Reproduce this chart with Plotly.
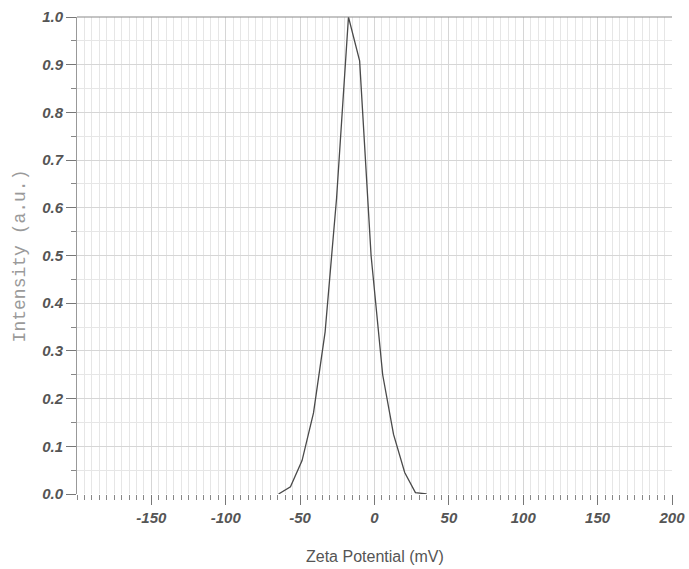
import plotly.graph_objects as go

# Data
zeta_mv = [-64.5, -56.5, -48.7, -41.0, -33.2, -25.5, -17.5, -10.0, -2.3, 5.5, 12.8, 20.3, 27.5, 35.0]
intensity = [0.0, 0.015, 0.07, 0.17, 0.34, 0.62, 1.0, 0.908, 0.50, 0.25, 0.125, 0.045, 0.003, 0.0]

x_tickvals = [-150, -100, -50, 0, 50, 100, 150, 200]
x_ticklabels = ["-150", "-100", "-50", "0", "50", "100", "150", "200"]
y_tickvals = [0.0, 0.1, 0.2, 0.3, 0.4, 0.5, 0.6, 0.7, 0.8, 0.9, 1.0]
y_ticklabels = ["0.0", "0.1", "0.2", "0.3", "0.4", "0.5", "0.6", "0.7", "0.8", "0.9", "1.0"]

tick_font = dict(family="Liberation Sans, Arial, sans-serif", size=15, color="#555555")

fig = go.Figure()
fig.add_trace(go.Scatter(
    x=zeta_mv, y=intensity, mode="lines",
    line=dict(color="#4a4a4a", width=1.3),
    showlegend=False, hoverinfo="skip",
))

fig.update_layout(
    width=689, height=569,
    margin=dict(l=77, r=17, t=17, b=75),
    paper_bgcolor="white", plot_bgcolor="white",
    xaxis=dict(
        range=[-200, 200], tickvals=x_tickvals,
        ticktext=["<b><i>%s</i></b>" % t for t in x_ticklabels],
        automargin=False,
        ticks="outside", ticklen=10, tickcolor="#777777", tickwidth=1,
        tickfont=tick_font,
        showgrid=True, gridcolor="#d6d6d6", gridwidth=1,
        minor=dict(dtick=5, tick0=0, ticks="outside", ticklen=5, tickcolor="#888888",
                   showgrid=True, gridcolor="#e6e6e6", gridwidth=1),
        showline=False, zeroline=False,
    ),
    yaxis=dict(
        range=[0, 1.0], tickvals=y_tickvals,
        ticktext=["<b><i>%s</i></b>" % t for t in y_ticklabels],
        automargin=False,
        ticks="outside", ticklen=10, tickcolor="#777777", tickwidth=1,
        tickfont=tick_font,
        showgrid=True, gridcolor="#d6d6d6", gridwidth=1,
        minor=dict(dtick=0.05, tick0=0, ticks="outside", ticklen=5, tickcolor="#888888",
                   showgrid=True, gridcolor="#e6e6e6", gridwidth=1),
        showline=True, linecolor="#999999", linewidth=1, zeroline=False,
    ),
    shapes=[dict(type="line", xref="paper", yref="paper", x0=0, x1=1, y0=1, y1=1,
                 line=dict(color="#8a8a8a", width=1.2))],
    annotations=[
        dict(text="Zeta Potential (mV)", xref="paper", yref="paper", x=0.5, y=-0.13,
             showarrow=False, xanchor="center", yanchor="middle",
             font=dict(family="Liberation Sans, Arial, sans-serif", size=16, color="#555555")),
        dict(text="Intensity (a.u.)", xref="paper", yref="paper", x=-0.096, y=0.5,
             showarrow=False, textangle=-90, xanchor="center", yanchor="middle",
             font=dict(family="Liberation Mono, Courier New, monospace", size=18, color="#9a9a9a")),
    ],
)

# remove the default page margin so the figure fills the window exactly
fig.write_html(
    "out.html",
    config={"displayModeBar": False, "staticPlot": True},
    post_script="document.body.style.margin='0';document.body.style.overflow='hidden';",
)
